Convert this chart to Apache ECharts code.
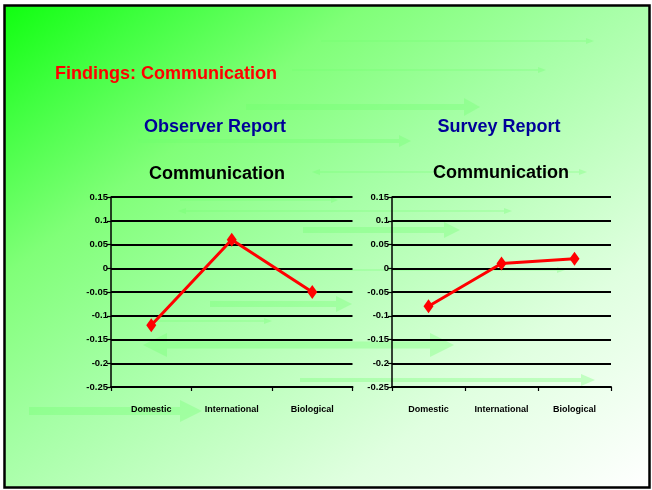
<!DOCTYPE html>
<html>
<head>
<meta charset="utf-8">
<script src="https://cdn.jsdelivr.net/npm/echarts@6/dist/echarts.min.js"></script>
<style>
html,body{margin:0;padding:0;background:#ffffff;}
#chart{width:652px;height:490px;}
</style>
</head>
<body>
<div id="chart"></div>
<script>
// ---- data ----
const categories = ['Domestic', 'International', 'Biological'];
const observerValues = [-0.12, 0.06, -0.05];
const surveyValues = [-0.08, 0.01, 0.02];
const yMin = -0.25, yMax = 0.15, yStep = 0.05;
const slideTitle = 'Findings: Communication';
const panelTitles = ['Observer Report', 'Survey Report'];
const chartTitles = ['Communication', 'Communication'];

// ---- decoration ----
const sans = '"Liberation Sans", Arial, sans-serif';
const arrowFill = 'rgba(110,255,110,0.32)';
function arrow(x1, x2, y, t, hl, hh, both) {
  const els = [];
  const s1 = both ? x1 + hl : x1;
  els.push({type: 'rect', shape: {x: s1, y: y - t / 2, width: (x2 - hl) - s1, height: t}, style: {fill: arrowFill}, silent: true, z: 1});
  els.push({type: 'polygon', shape: {points: [[x2 - hl, y - hh], [x2, y], [x2 - hl, y + hh]]}, style: {fill: arrowFill}, silent: true, z: 1});
  if (both) {
    els.push({type: 'polygon', shape: {points: [[x1 + hl, y - hh], [x1, y], [x1 + hl, y + hh]]}, style: {fill: arrowFill}, silent: true, z: 1});
  }
  return els;
}
const deco = [].concat(
  arrow(321, 594, 41, 1.5, 8, 3),
  arrow(292, 546, 70, 1.5, 8, 3),
  arrow(246, 480, 107, 6, 16, 9),
  arrow(138, 411, 141, 4, 12, 6),
  arrow(312, 587, 172, 1.5, 8, 3, true),
  arrow(180, 338, 200, 1.5, 7, 3),
  arrow(178, 512, 211, 1.5, 8, 3, true),
  arrow(303, 460, 230, 6, 16, 8),
  arrow(290, 565, 270, 1.5, 8, 3),
  arrow(210, 352, 304, 6, 16, 8),
  arrow(150, 272, 321, 1.5, 8, 3),
  arrow(143, 454, 345, 7, 24, 12, true),
  arrow(300, 595, 380, 4, 14, 6),
  arrow(29, 202, 411, 8, 22, 11)
);

const bg = {
  type: 'rect', z: 0, silent: true,
  shape: {x: 4.5, y: 5.5, width: 645, height: 482},
  style: {
    fill: new echarts.graphic.LinearGradient(4.5, 5.5, 466.7, 624, [
      {offset: 0, color: '#10ff10'},
      {offset: 0.12, color: '#40ff40'},
      {offset: 0.28, color: '#80ff78'},
      {offset: 0.46, color: '#a4ffa4'},
      {offset: 0.76, color: '#e0ffe0'},
      {offset: 1, color: '#ffffff'}
    ], true),
    stroke: '#000000', lineWidth: 2.5
  }
};

const chart = echarts.init(document.getElementById('chart'));

function title(text, x, y, color, align) {
  return {
    text: text, left: x, top: y, padding: 0, textAlign: align || 'center',
    textStyle: {color: color, fontSize: 18, fontWeight: 'bold', fontFamily: sans, lineHeight: 20}
  };
}

const grids = [
  {left: 111, right: 652 - 352.5, top: 197, bottom: 490 - 387},
  {left: 392, right: 652 - 611, top: 197, bottom: 490 - 387}
];

function xAx(i) {
  return {
    type: 'category', gridIndex: i, data: categories, boundaryGap: true, z: 5,
    axisLine: {show: true, onZero: false, lineStyle: {color: '#000', width: 2}},
    axisTick: {show: true, length: 4, lineStyle: {color: '#000', width: 1.2}},
    axisLabel: {interval: 0, margin: 18, color: '#000', fontSize: 9, fontWeight: 'bold', fontFamily: sans},
    splitLine: {show: false}
  };
}
function yAx(i) {
  return {
    type: 'value', gridIndex: i, min: yMin, max: yMax, interval: yStep, z: 5,
    axisLine: {show: true, lineStyle: {color: '#000', width: 1.5}},
    axisTick: {show: true, length: 4, lineStyle: {color: '#000', width: 1.2}},
    axisLabel: {margin: 3, color: '#000', fontSize: 9.5, fontWeight: 'bold', fontFamily: sans,
      formatter: v => String(parseFloat(v.toFixed(2)))},
    splitLine: {show: true, lineStyle: {color: '#000', width: 1.8}}
  };
}
function series(i, data) {
  return {
    type: 'line', xAxisIndex: i, yAxisIndex: i, data: data, z: 10,
    symbol: 'diamond', symbolSize: [10, 14],
    lineStyle: {color: '#ff0000', width: 3},
    itemStyle: {color: '#ff0000'},
    animation: false
  };
}

chart.setOption({
  backgroundColor: 'transparent',
  animation: false,
  graphic: [bg].concat(deco),
  title: [
    title(slideTitle, 55, 64, '#ff0000', 'left'),
    title(panelTitles[0], 215, 117, '#000099'),
    title(panelTitles[1], 499, 117, '#000099'),
    title(chartTitles[0], 217, 164, '#000000'),
    title(chartTitles[1], 501, 163, '#000000')
  ],
  grid: grids,
  xAxis: [xAx(0), xAx(1)],
  yAxis: [yAx(0), yAx(1)],
  series: [series(0, observerValues), series(1, surveyValues)]
});
</script>
</body>
</html>
